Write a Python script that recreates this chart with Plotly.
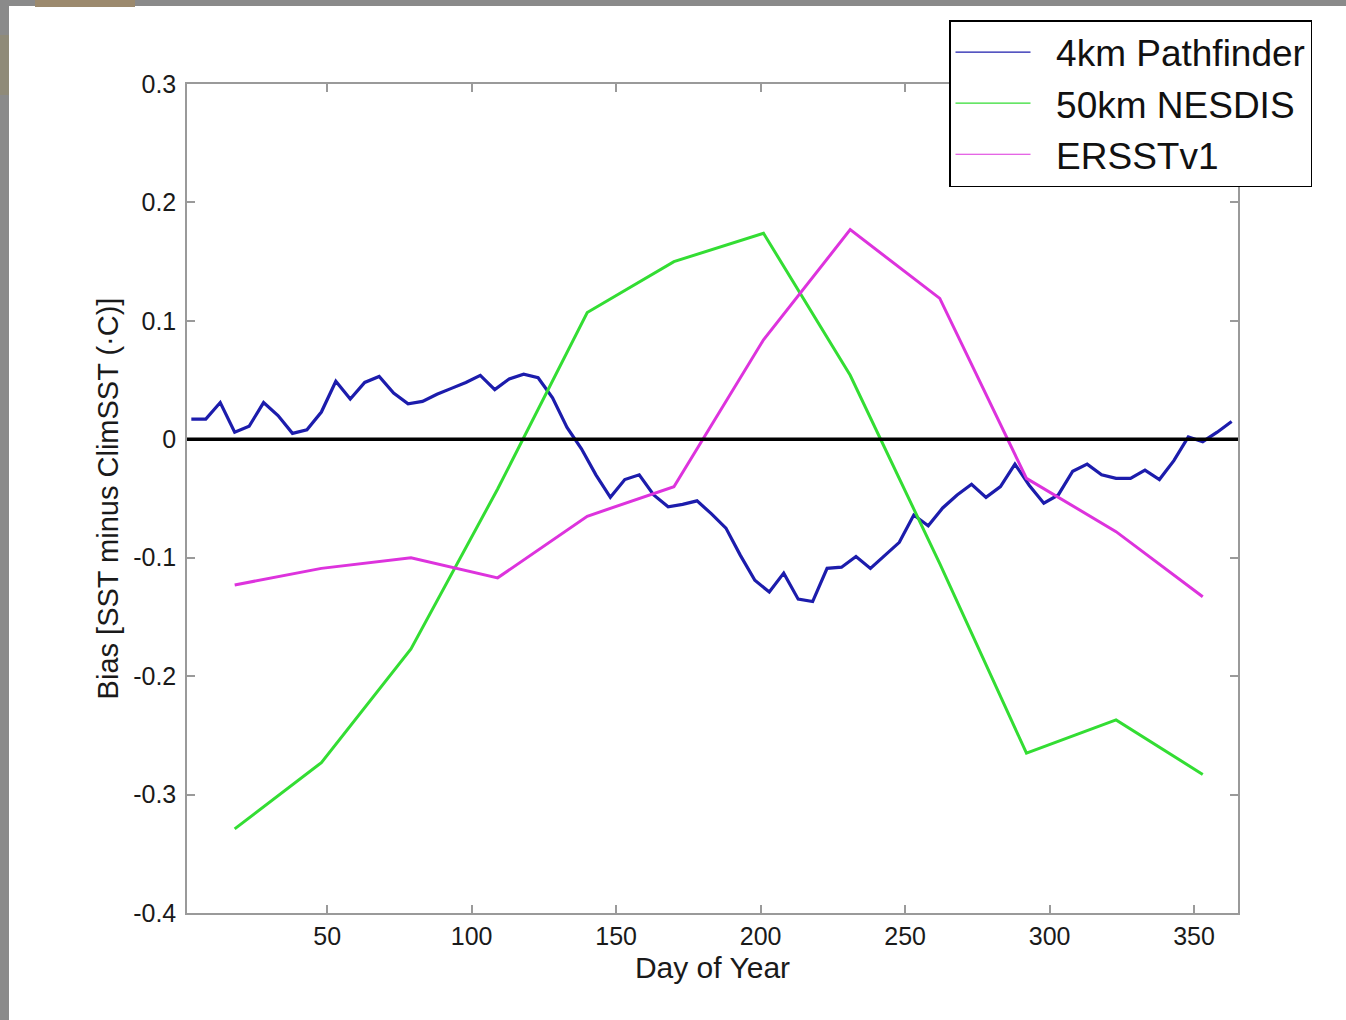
import plotly.graph_objects as go

# ---- data ----
days_pathfinder = [3, 8, 13, 18, 23, 28, 33, 38, 43, 48, 53, 58, 63, 68, 73, 78, 83, 88, 93, 98,
                   103, 108, 113, 118, 123, 128, 133, 138, 143, 148, 153, 158, 163, 168, 173, 178,
                   183, 188, 193, 198, 203, 208, 213, 218, 223, 228, 233, 238, 243, 248, 253, 258,
                   263, 268, 273, 278, 283, 288, 293, 298, 303, 308, 313, 318, 323, 328, 333, 338,
                   343, 348, 353, 358, 363]
bias_pathfinder = [0.017, 0.017, 0.031, 0.006, 0.011, 0.031, 0.020, 0.005, 0.008, 0.023,
                   0.049, 0.034, 0.048, 0.053, 0.039, 0.030, 0.032, 0.038, 0.043, 0.048,
                   0.054, 0.042, 0.051, 0.055, 0.052, 0.035, 0.010, -0.008, -0.030, -0.049,
                   -0.034, -0.030, -0.047, -0.057, -0.055, -0.052, -0.063, -0.075, -0.098, -0.119,
                   -0.129, -0.113, -0.135, -0.137, -0.109, -0.108, -0.099, -0.109, -0.098, -0.087,
                   -0.064, -0.073, -0.058, -0.047, -0.038, -0.049, -0.040, -0.021, -0.039, -0.054,
                   -0.047, -0.027, -0.021, -0.030, -0.033, -0.033, -0.026, -0.034, -0.018, 0.002,
                   -0.002, 0.006, 0.015]

days_monthly = [18, 48, 79, 109, 140, 170, 201, 231, 262, 292, 323, 353]
bias_nesdis = [-0.329, -0.273, -0.177, -0.042, 0.107, 0.150, 0.174, 0.054, -0.105, -0.265, -0.237, -0.283]
bias_ersst = [-0.123, -0.109, -0.100, -0.117, -0.065, -0.040, 0.084, 0.177, 0.119, -0.033, -0.078, -0.133]

series_names = ["4km Pathfinder", "50km NESDIS", "ERSSTv1"]
series_colors = ["#1c1cac", "#33dd33", "#dd33dd"]

x_ticks = [50, 100, 150, 200, 250, 300, 350]
y_ticks = [-0.4, -0.3, -0.2, -0.1, 0, 0.1, 0.2, 0.3]
y_tick_labels = ["-0.4", "-0.3", "-0.2", "-0.1", "0", "0.1", "0.2", "0.3"]

# ---- figure ----
W, H = 1346, 1020
L, R, T, B = 187, 108, 84, 107
pw, ph = W - L - R, H - T - B
FONT = "Liberation Sans, Arial, Helvetica, sans-serif"

def px(xp):
    return (xp - L) / pw

def py(yp):
    return (H - B - yp) / ph

fig = go.Figure()

fig.add_trace(go.Scatter(x=days_pathfinder, y=bias_pathfinder, mode="lines",
                         line=dict(color=series_colors[0], width=3.2), showlegend=False))
fig.add_trace(go.Scatter(x=days_monthly, y=bias_nesdis, mode="lines",
                         line=dict(color=series_colors[1], width=3), showlegend=False))
fig.add_trace(go.Scatter(x=days_monthly, y=bias_ersst, mode="lines",
                         line=dict(color=series_colors[2], width=3), showlegend=False))

# legend entries (thin sample lines like the original)
for name, col in zip(series_names, series_colors):
    fig.add_trace(go.Scatter(x=[None], y=[None], mode="lines", name="\u00a0\u00a0" + name,
                             line=dict(color=col, width=1.2), showlegend=True))

axis_common = dict(
    showline=True, linecolor="#9a9a9a", linewidth=1.5, mirror="ticks",
    ticks="inside", ticklen=8, tickcolor="#9a9a9a", tickwidth=1.5,
    showgrid=False, zeroline=False,
    tickfont=dict(family=FONT, size=25, color="#1a1a1a"),
)

fig.update_xaxes(range=[1.5, 365.2], tickvals=x_ticks,
                 title=dict(text="Day of Year", standoff=8,
                            font=dict(family=FONT, size=30, color="#1a1a1a")),
                 **axis_common)
fig.update_yaxes(range=[-0.4, 0.3], tickvals=y_ticks, ticktext=y_tick_labels,
                 ticklabelstandoff=4,
                 title=dict(text="Bias [SST minus ClimSST (·C)]", standoff=6,
                            font=dict(family=FONT, size=29, color="#1a1a1a")),
                 **axis_common)

# zero reference line
fig.add_hline(y=0, line=dict(color="black", width=3.5))

# grey frame strips of the original slide
fig.add_shape(type="rect", xref="paper", yref="paper", x0=px(0), x1=px(9), y0=py(H), y1=py(0),
              fillcolor="#8a8a8a", line=dict(width=0), layer="below")
fig.add_shape(type="rect", xref="paper", yref="paper", x0=px(0), x1=px(W), y0=py(6), y1=py(0),
              fillcolor="#8a8a8a", line=dict(width=0), layer="below")
fig.add_shape(type="rect", xref="paper", yref="paper", x0=px(35), x1=px(135), y0=py(7), y1=py(0),
              fillcolor="#9c8a6e", line=dict(width=0), layer="below")
fig.add_shape(type="rect", xref="paper", yref="paper", x0=px(0), x1=px(9), y0=py(95), y1=py(35),
              fillcolor="#8f8a78", line=dict(width=0), layer="below")

fig.update_layout(
    width=W, height=H,
    margin=dict(l=L, r=R, t=T, b=B),
    paper_bgcolor="white", plot_bgcolor="white",
    font=dict(family=FONT, color="#111111"),
    legend=dict(x=px(949), y=py(20), xanchor="left", yanchor="top",
                bgcolor="white", bordercolor="black", borderwidth=1.5,
                font=dict(size=37, color="#111111", family=FONT),
                itemwidth=75, tracegroupgap=0),
)

fig.write_html("out.html")
